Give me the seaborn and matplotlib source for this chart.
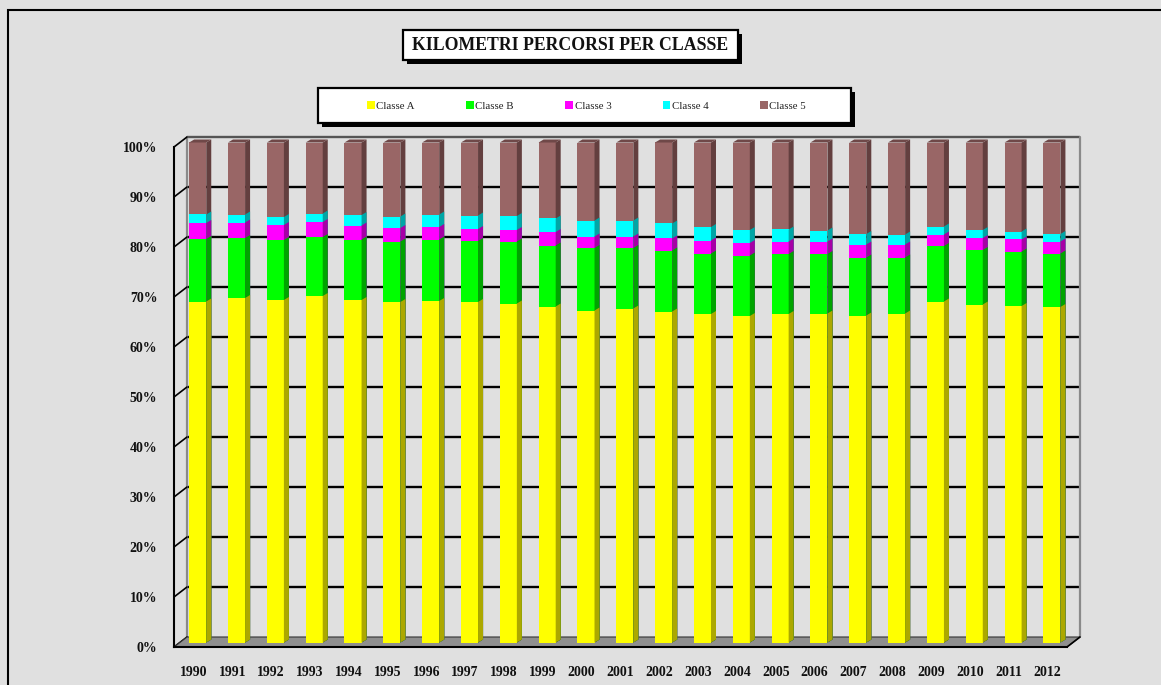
import numpy as np
import pandas as pd
import matplotlib
matplotlib.use("Agg")
import matplotlib.pyplot as plt
import seaborn as sns
from matplotlib.patches import Polygon, Rectangle

# ---------------- data (percent shares of km travelled) ----------------
years = [str(y) for y in range(1990, 2013)]
classe_a = [68.2, 68.9, 68.5, 69.3, 68.5, 68.1, 68.3, 68.1, 67.8, 67.2, 66.4, 66.8,
            66.2, 65.7, 65.3, 65.7, 65.8, 65.4, 65.8, 68.2, 67.6, 67.3, 67.1]
classe_b = [12.5, 12.0, 12.0, 11.8, 12.1, 12.1, 12.3, 12.2, 12.4, 12.2, 12.5, 12.1,
            12.2, 12.1, 12.1, 12.0, 11.9, 11.6, 11.2, 11.1, 10.9, 10.9, 10.7]
classe_3 = [3.2, 3.1, 3.0, 3.0, 2.8, 2.7, 2.5, 2.4, 2.3, 2.7, 2.3, 2.3,
            2.4, 2.6, 2.5, 2.5, 2.5, 2.6, 2.6, 2.3, 2.4, 2.4, 2.4]
classe_4 = [1.7, 1.6, 1.6, 1.7, 2.1, 2.3, 2.5, 2.7, 2.8, 2.7, 3.2, 3.2,
            3.0, 2.7, 2.6, 2.4, 2.2, 2.1, 2.0, 1.6, 1.6, 1.6, 1.5]
classe_5 = [14.4, 14.4, 14.9, 14.2, 14.5, 14.8, 14.4, 14.6, 14.7, 15.2, 15.6, 15.6,
            16.2, 16.9, 17.5, 17.4, 17.6, 18.3, 18.4, 16.8, 17.5, 17.8, 18.3]
series_names = ["Classe A", "Classe B", "Classe 3", "Classe 4", "Classe 5"]
y_ticks = list(range(0, 101, 10))
y_tick_labels = [f"{v}%" for v in y_ticks]
title = "KILOMETRI PERCORSI PER CLASSE"

face_colors = ["#ffff00", "#00ff00", "#ff00ff", "#00ffff", "#996666"]
side_colors = ["#aca800", "#00a400", "#a600a6", "#00a6a6", "#633f3f"]

df = pd.DataFrame({"anno": years, "Classe A": classe_a, "Classe B": classe_b,
                   "Classe 3": classe_3, "Classe 4": classe_4, "Classe 5": classe_5})
cum = df[series_names].cumsum(axis=1)

# ---------------- figure ----------------
sns.set_theme(style="white")
plt.rcParams["font.family"] = ["Liberation Serif", "DejaVu Serif"]

DPI = 100
W, H = 1161, 685
fig = plt.figure(figsize=(W / DPI, H / DPI), dpi=DPI, facecolor="#e0e0e0")


def fx(px):
    return px / W


def fy(py):
    return 1 - py / H


ax = fig.add_axes([fx(174), fy(647), 893 / W, 500 / H])
ax.set_facecolor("none")

n = len(years)
px_per_x = 893 / n
px_per_y = 5.0
# wall depth offset (front axis -> back wall)
wdx, wdy = 13 / px_per_x, 10 / px_per_y
# bar front offset, bar depth
bdx, bdy = 4.3 / px_per_x, 4.5 / px_per_y
ddx, ddy = 5 / px_per_x, 3 / px_per_y

# back wall grid lines
for v in y_ticks[1:]:
    col = "#555555" if v == 100 else "#000000"
    ax.plot([-0.5 + wdx, n - 0.5 + wdx], [v + wdy, v + wdy], color=col, lw=1.7,
            zorder=1.2, clip_on=False, solid_capstyle="butt")
for xe in (-0.5 + wdx, n - 0.5 + wdx):
    ax.plot([xe, xe], [wdy, 100 + wdy], color="#8a8a8a", lw=1.6, zorder=1.3, clip_on=False)
# diagonals from y ticks to back wall
for v in y_ticks:
    ax.plot([-0.5, -0.5 + wdx], [v, v + wdy], color="black", lw=1.2, zorder=1.4, clip_on=False)
# floor
floor = Polygon([(-0.5, 0), (n - 0.5, 0), (n - 0.5 + wdx, wdy), (-0.5 + wdx, wdy)],
                closed=True, facecolor="#8f8f8f", edgecolor="#333333", lw=0.8,
                zorder=1.5, clip_on=False)
ax.add_patch(floor)
ax.plot([n - 0.5, n - 0.5 + wdx], [0, wdy], color="black", lw=1.2, zorder=1.6, clip_on=False)

# stacked bars: draw cumulative totals, largest first
handles = []
for k in range(len(series_names) - 1, -1, -1):
    name = series_names[k]
    z = 3 + (len(series_names) - k)
    sns.barplot(x=df["anno"], y=cum[name], color=face_colors[k], saturation=1,
                width=0.44, ax=ax, zorder=z, linewidth=0, order=years)
    cont = ax.containers[-1]
    for p in cont.patches:
        p.set_x(p.get_x() + bdx)
        p.set_y(p.get_y() + bdy)
        p.set_clip_on(False)
        x0 = p.get_x()
        x1 = x0 + p.get_width()
        y0 = p.get_y()
        y1 = y0 + p.get_height()
        side = Polygon([(x1, y0), (x1 + ddx, y0 + ddy), (x1 + ddx, y1 + ddy), (x1, y1)],
                       closed=True, facecolor=side_colors[k], edgecolor="none",
                       zorder=z, clip_on=False)
        ax.add_patch(side)
        if k == len(series_names) - 1:
            top = Polygon([(x0, y1), (x1, y1), (x1 + ddx, y1 + ddy), (x0 + ddx, y1 + ddy)],
                          closed=True, facecolor="#6f4848", edgecolor="none",
                          zorder=z, clip_on=False)
            ax.add_patch(top)
    handles.insert(0, Rectangle((0, 0), 1, 1, facecolor=face_colors[k], edgecolor="none"))

ax.set_xlim(-0.5, n - 0.5)
ax.set_ylim(0, 100)
ax.set_xlabel("")
ax.set_ylabel("")
ax.set_xticks(range(n))
ax.set_xticklabels(years, fontsize=10, fontweight="bold", color="#111111")
ax.set_xticks(np.arange(-0.5, n, 1.0), minor=True)
ax.tick_params(axis="x", which="major", length=0, pad=14)
ax.tick_params(axis="x", which="minor", length=4, width=1.3, color="black", direction="out")
ax.set_yticks(y_ticks)
ax.set_yticklabels(y_tick_labels, fontsize=10, fontweight="bold", color="#111111")
ax.tick_params(axis="y", length=4, width=1.3, color="black", direction="out", pad=8)
for s in ("top", "right"):
    ax.spines[s].set_visible(False)
for s in ("left", "bottom"):
    ax.spines[s].set_color("black")
    ax.spines[s].set_linewidth(1.5)
    ax.spines[s].set_zorder(10)
ax.grid(False)

# ---------------- title box ----------------
tb = (403, 30, 738, 60)
fig.patches.append(Rectangle((fx(tb[0] + 4), fy(tb[3] + 4)), (tb[2] - tb[0]) / W,
                             (tb[3] - tb[1]) / H, transform=fig.transFigure,
                             facecolor="black", edgecolor="none", zorder=1))
fig.patches.append(Rectangle((fx(tb[0]), fy(tb[3])), (tb[2] - tb[0]) / W,
                             (tb[3] - tb[1]) / H, transform=fig.transFigure,
                             facecolor="white", edgecolor="black", lw=1.6, zorder=2))
fig.text(fx((tb[0] + tb[2]) / 2), fy((tb[1] + tb[3]) / 2 + 1), title, ha="center",
         va="center", fontsize=12.8, fontweight="bold", color="#111111", zorder=3)

# ---------------- legend box ----------------
lb = (318, 88, 851, 123)
fig.patches.append(Rectangle((fx(lb[0] + 4), fy(lb[3] + 4)), (lb[2] - lb[0]) / W,
                             (lb[3] - lb[1]) / H, transform=fig.transFigure,
                             facecolor="black", edgecolor="none", zorder=1))
fig.patches.append(Rectangle((fx(lb[0]), fy(lb[3])), (lb[2] - lb[0]) / W,
                             (lb[3] - lb[1]) / H, transform=fig.transFigure,
                             facecolor="white", edgecolor="black", lw=1.6, zorder=2))
leg = fig.legend(handles, series_names, loc="center left",
                 bbox_to_anchor=(fx(367), fy(106)), ncol=5, frameon=False,
                 fontsize=7.8, handlelength=0.7, handleheight=0.7, handletextpad=0.15,
                 columnspacing=4.75, borderpad=0, borderaxespad=0)
for t in leg.get_texts():
    t.set_color("#222222")
leg.set_zorder(5)

# ---------------- outer border ----------------
fig.patches.append(Rectangle((fx(8), fy(700)), (1180 - 8) / W, (700 - 10) / H,
                             transform=fig.transFigure, facecolor="none",
                             edgecolor="black", lw=1.5, zorder=0))

fig.savefig("out.png", dpi=DPI, facecolor=fig.get_facecolor())
